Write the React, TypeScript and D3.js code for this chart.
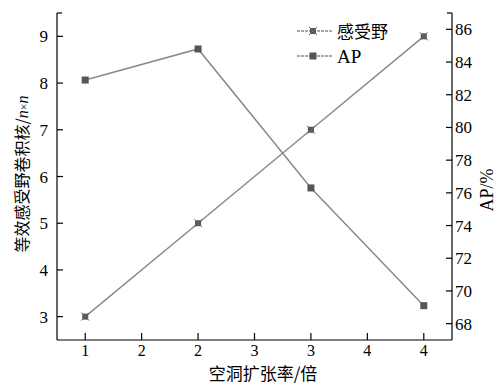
import React from "react";
import * as d3 from "d3";

const dilation = [1, 2, 3, 4];
const receptiveField = [3, 5, 7, 9];
const apValues = [82.9, 84.8, 76.3, 69.1];
const xTicks = [1, 1.5, 2, 2.5, 3, 3.5, 4];
const leftTicks = [3, 4, 5, 6, 7, 8, 9];
const rightTicks = [68, 70, 72, 74, 76, 78, 80, 82, 84, 86];
const legendLabels = ["感受野", "AP"];

const W = 497, H = 385;
const L = 57, R = 452, T = 13, B = 340;
const serif = "'Liberation Serif', 'DejaVu Serif', serif";
const cjk = "'Noto Sans CJK SC', sans-serif";

export default function App() {
  const x = d3.scaleLinear().domain([0.75, 4.25]).range([L, R]);
  const yL = d3.scaleLinear().domain([2.5, 9.5]).range([B, T]);
  const yR = d3.scaleLinear().domain([67, 87]).range([B, T]);
  const lineL = d3.line<number>().x((_, i) => x(dilation[i])).y((d) => yL(d));
  const lineR = d3.line<number>().x((_, i) => x(dilation[i])).y((d) => yR(d));
  const lineColor = "#8a8a8a";
  const markColor = "#555";

  const star = (cx: number, cy: number, key: string) => (
    <g key={key}>
      <rect x={cx - 3} y={cy - 3} width={6} height={6} fill={markColor} />
      <path d={`M${cx - 4},${cy - 4}L${cx + 4},${cy + 4}M${cx - 4},${cy + 4}L${cx + 4},${cy - 4}`} stroke="#666" strokeWidth={1} />
    </g>
  );
  const square = (cx: number, cy: number, key: string) => (
    <rect key={key} x={cx - 3.5} y={cy - 3.5} width={7} height={7} fill={markColor} />
  );

  return (
    <svg width={W} height={H} style={{ position: "absolute", left: 0, top: 0, background: "#fff" }}>
      {/* axes */}
      <g stroke="#000" strokeWidth={1.2} fill="none">
        <line x1={L} y1={T} x2={L} y2={B} />
        <line x1={R} y1={T} x2={R} y2={B} />
        <line x1={L} y1={B} x2={R} y2={B} />
        <line x1={L} y1={T} x2={L + 5} y2={T} />
        <line x1={R - 5} y1={T} x2={R} y2={T} />
        {xTicks.map((t) => (
          <line key={"xt" + t} x1={x(t)} y1={B} x2={x(t)} y2={B - 7} />
        ))}
        {leftTicks.map((t) => (
          <line key={"lt" + t} x1={L} y1={yL(t)} x2={L + 6} y2={yL(t)} />
        ))}
        {rightTicks.map((t) => (
          <line key={"rt" + t} x1={R - 6} y1={yR(t)} x2={R} y2={yR(t)} />
        ))}
      </g>
      <g fontFamily={serif} fontSize={17} fill="#000">
        {xTicks.map((t) => (
          <text key={"xl" + t} x={x(t)} y={B + 16} textAnchor="middle" fontSize={16}>
            {Math.round(t)}
          </text>
        ))}
        {leftTicks.map((t) => (
          <text key={"ll" + t} x={L - 9} y={yL(t) + 6} textAnchor="end">
            {t}
          </text>
        ))}
        {rightTicks.map((t) => (
          <text key={"rl" + t} x={R + 3} y={yR(t) + 6} textAnchor="start">
            {t}
          </text>
        ))}
      </g>
      {/* axis titles */}
      <text x={263} y={380} textAnchor="middle" fontFamily={cjk} fontSize={17}>
        空洞扩张率/倍
      </text>
      <text transform="translate(28,174) rotate(-90)" textAnchor="middle" fontSize={16}>
        <tspan fontFamily={cjk}>等效感受野卷积核/</tspan>
        <tspan fontFamily={serif} fontStyle="italic">n</tspan>
        <tspan fontFamily={serif} fontSize={12}>×</tspan>
        <tspan fontFamily={serif} fontStyle="italic">n</tspan>
      </text>
      <text transform="translate(493,190) rotate(-90)" textAnchor="middle" fontFamily={serif} fontSize={18}>
        AP/%
      </text>
      {/* lines */}
      <path d={lineL(receptiveField) || ""} fill="none" stroke={lineColor} strokeWidth={1.5} />
      <path d={lineR(apValues) || ""} fill="none" stroke={lineColor} strokeWidth={1.5} />
      {receptiveField.map((v, i) => star(x(dilation[i]), yL(v), "s" + i))}
      {apValues.map((v, i) => square(x(dilation[i]), yR(v), "q" + i))}
      {/* legend */}
      <g>
        <line x1={297} y1={31} x2={333} y2={31} stroke={lineColor} strokeWidth={1.5} strokeDasharray="3,1" />
        {star(313, 31, "ls")}
        <text x={337} y={38} fontFamily={cjk} fontSize={17}>{legendLabels[0]}</text>
        <line x1={297} y1={56} x2={333} y2={56} stroke={lineColor} strokeWidth={1.5} strokeDasharray="3,1" />
        {square(313, 56, "lq")}
        <text x={337} y={63} fontFamily={serif} fontSize={19}>{legendLabels[1]}</text>
      </g>
    </svg>
  );
}
